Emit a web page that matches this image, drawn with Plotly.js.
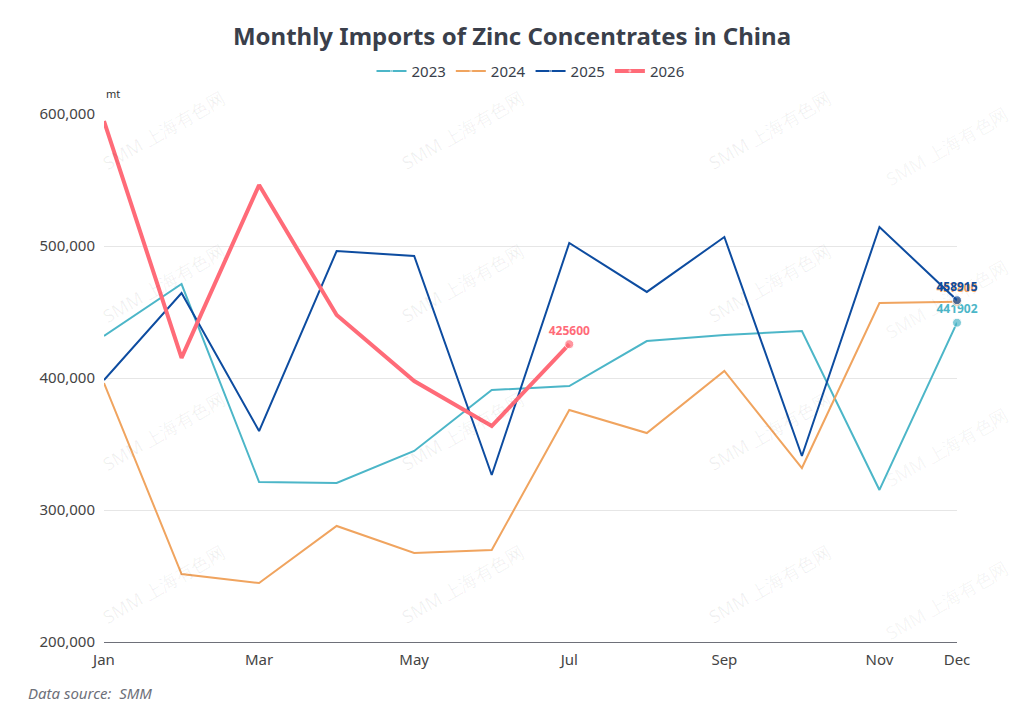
<!DOCTYPE html>
<html>
<head>
<meta charset="utf-8">
<script src="https://cdn.plot.ly/plotly-3.0.1.min.js"></script>
<style>
  html, body { margin: 0; padding: 0; background: #fff; }
  #chart { width: 1024px; height: 722px; }
</style>
</head>
<body>
<div id="chart"></div>
<script>
const months = ['Jan', 'Feb', 'Mar', 'Apr', 'May', 'Jun', 'Jul', 'Aug', 'Sep', 'Oct', 'Nov', 'Dec'];
const tickMonths = ['Jan', 'Mar', 'May', 'Jul', 'Sep', 'Nov', 'Dec'];

const imports2023 = [431800, 471200, 321200, 320500, 344700, 390900, 393900, 428000, 432600, 435600, 315200, 441902];
const imports2024 = [396200, 251500, 244700, 287900, 267400, 269700, 375800, 358300, 405300, 331800, 456800, 457800];
const imports2025 = [398500, 464400, 359800, 496200, 492400, 326500, 502300, 465200, 506800, 340900, 514400, 458915];
const imports2026 = [594700, 415200, 546200, 447700, 397700, 363600, 425600];

const yTicks = [200000, 300000, 400000, 500000, 600000];

// only the last point of each year gets a marker and a value label
function endText(vals) {
    return vals.map((v, i) => i === vals.length - 1 ? String(v) : '');
}
function endSize(vals, s) {
    return vals.map((v, i) => i === vals.length - 1 ? s : 0);
}

function yearTrace(name, vals, color, width) {
    return {
        x: months.slice(0, vals.length), y: vals, name: name,
        type: 'scatter', mode: 'lines+markers+text',
        line: { color: color, width: width },
        marker: { color: color, size: endSize(vals, 9) },
        text: endText(vals), textposition: 'top center',
        textfont: { color: color, size: 12, family: 'Noto Sans', weight: 'bold' },
        cliponaxis: false, hoverinfo: 'x+y'
    };
}

const traces = [
    yearTrace('2023', imports2023, '#4cb6c8', 2),
    yearTrace('2024', imports2024, '#f0a45f', 2),
    yearTrace('2025', imports2025, '#0d4ca0', 2),
    yearTrace('2026', imports2026, '#ff6b78', 4)
];

// faint watermark grid (right column kept inside the page)
const marks = [];
const wmX = [0.07, 0.42, 0.78];
const wmY = [0.97, 0.68, 0.40, 0.11];
wmY.forEach(yy => {
    wmX.forEach(xx => {
        marks.push({
            text: 'SMM 上海有色网', xref: 'paper', yref: 'paper', x: xx, y: yy,
            xanchor: 'center', yanchor: 'middle',
            showarrow: false, textangle: -30,
            font: { size: 18, color: 'rgba(0,0,0,0.06)', family: 'Noto Sans' }
        });
    });
    marks.push({
        text: 'SMM 上海有色网', xref: 'paper', yref: 'paper', x: 1.068, y: yy - 0.03,
        xanchor: 'right', yanchor: 'middle',
        showarrow: false, textangle: -30,
        font: { size: 18, color: 'rgba(0,0,0,0.05)', family: 'Noto Sans' }
    });
});

const layout = {
    width: 1024, height: 722,
    paper_bgcolor: '#ffffff', plot_bgcolor: '#ffffff',
    margin: { l: 104, r: 67, t: 114, b: 80 },
    font: { family: 'Noto Sans', color: '#333' },
    title: {
        text: '<b>Monthly Imports of Zinc Concentrates in China</b>',
        x: 0.5, xanchor: 'center', y: 0.95, yanchor: 'middle',
        font: { size: 24, color: '#3a3f4b', family: 'Noto Sans' }
    },
    showlegend: true,
    legend: {
        orientation: 'h', x: 0.5, xanchor: 'center', y: 1.081, yanchor: 'middle',
        font: { size: 15, color: '#3a3f4b' }, itemwidth: 30
    },
    xaxis: {
        type: 'category', categoryarray: months, range: [0, 11],
        tickvals: tickMonths, ticktext: tickMonths,
        showgrid: false, showline: true, linecolor: '#6e7079', linewidth: 1,
        ticks: '', ticklabelstandoff: 4, tickfont: { size: 15, color: '#444' }, fixedrange: true
    },
    yaxis: {
        range: [200000, 600000], tickvals: yTicks, tickformat: ',',
        showgrid: true, gridcolor: '#e6e6e6', zeroline: false, showline: false,
        ticks: '', ticklabelstandoff: 8, tickfont: { size: 15, color: '#444' }
    },
    annotations: marks.concat([
        { text: 'mt', xref: 'paper', yref: 'paper', x: 0.0, y: 1.038, xanchor: 'left', yanchor: 'middle',
          showarrow: false, font: { size: 11, color: '#333' } },
        { text: '<i>Data source:  SMM</i>', xref: 'paper', yref: 'paper', x: -0.092, y: -0.097,
          xanchor: 'left', yanchor: 'middle', showarrow: false, font: { size: 15, color: '#6e7079' } }
    ])
};

Plotly.newPlot('chart', traces, layout, { displayModeBar: false });
</script>
</body>
</html>
